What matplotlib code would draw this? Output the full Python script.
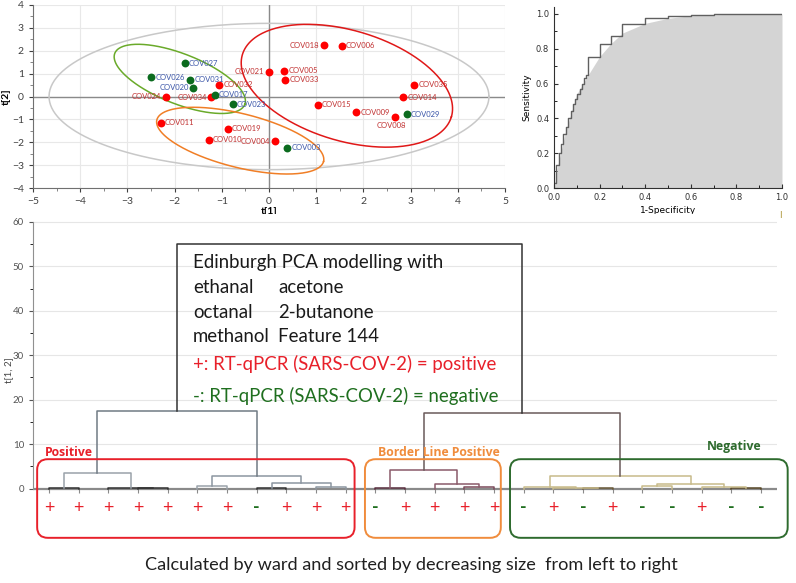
import numpy as np
import matplotlib.pyplot as plt
from matplotlib.patches import FancyBboxPatch

plt.rcParams['font.family'] = ['Lato', 'DejaVu Sans']

# PCA score plot
sample_ids = ['COV027', 'COV026', 'COV031', 'COV020', 'COV032', 'COV024', 'COV034', 'COV017', 'COV023',
              'COV011', 'COV019', 'COV010', 'COV018', 'COV006', 'COV021', 'COV005', 'COV033', 'COV035',
              'COV014', 'COV015', 'COV009', 'COV029', 'COV008', 'COV004', 'COV003']
t1 = [-1.79, -2.49, -1.67, -1.60, -1.05, -2.19, -1.22, -1.15, -0.77,
      -2.29, -0.87, -1.28, 1.16, 1.54, -0.01, 0.32, 0.34, 3.08,
      2.84, 1.03, 1.85, 2.92, 2.67, 0.12, 0.39]
t2 = [1.45, 0.84, 0.74, 0.38, 0.51, -0.01, -0.03, 0.07, -0.33,
      -1.15, -1.41, -1.88, 2.23, 2.21, 1.08, 1.12, 0.73, 0.51,
      -0.04, -0.36, -0.68, -0.77, -0.89, -1.95, -2.25]
pcr = ['neg', 'neg', 'neg', 'neg', 'pos', 'pos', 'pos', 'neg', 'neg',
       'pos', 'pos', 'pos', 'pos', 'pos', 'pos', 'pos', 'pos', 'pos',
       'pos', 'pos', 'pos', 'neg', 'pos', 'pos', 'neg']
label_side = ['r', 'r', 'r', 'l', 'r', 'l', 'l', 'r', 'r',
              'r', 'r', 'r', 'l', 'r', 'l', 'r', 'r', 'r',
              'r', 'r', 'r', 'r', 'b', 'l', 'r']
# ellipses: centre x, centre y, semi major, semi minor (t[1] units), tilt deg, colour
ellipses = [(0.0, 0.0, 4.66, 1.55, 0, '#c8c8c8'),
            (-1.89, 0.77, 1.48, 0.53, -21.5, '#6aaa2a'),
            (1.65, 0.47, 2.31, 1.17, -16.6, '#e01818'),
            (-0.61, -1.93, 1.82, 0.57, -14, '#f07e26')]

# ROC
roc_fpr = [0, 0.01, 0.02, 0.03, 0.04, 0.054, 0.063, 0.073, 0.084, 0.092, 0.103, 0.113, 0.123,
           0.132, 0.142, 0.15, 0.2, 0.25, 0.3, 0.4, 0.5, 0.6, 0.7, 1.0]
roc_tpr = [0.03, 0.13, 0.2, 0.25, 0.31, 0.35, 0.4, 0.44, 0.48, 0.51, 0.54, 0.57, 0.6,
           0.63, 0.65, 0.75, 0.83, 0.875, 0.94, 0.975, 0.99, 0.996, 1.0, 1.0]
fit_fpr = [0, 0.005, 0.01, 0.02, 0.05, 0.1, 0.15, 0.2, 0.25, 0.3, 0.4, 0.5, 0.6, 0.8, 1.0]
fit_tpr = [0, 0.03, 0.08, 0.15, 0.32, 0.54, 0.65, 0.755, 0.83, 0.89, 0.946, 0.975, 0.99, 1.0, 1.0]

# dendrogram (leaves numbered 0..24 left to right, merges numbered from 25)
leaf_signs = ['+', '+', '+', '+', '+', '+', '+', '-', '+', '+', '+',
              '-', '+', '+', '+', '+',
              '-', '+', '-', '+', '-', '-', '+', '-', '-']
merges = [(3, 4, 0.1), (2, 25, 0.2), (0, 1, 0.15), (27, 26, 3.6),
          (5, 6, 0.5), (7, 8, 0.1), (9, 10, 0.3), (30, 31, 1.3), (29, 32, 2.9), (28, 33, 17.5),
          (11, 12, 0.2), (14, 15, 0.3), (13, 36, 0.95), (35, 37, 4.1),
          (18, 19, 0.05), (17, 39, 0.15), (16, 40, 0.4), (23, 24, 0.1), (22, 42, 0.4),
          (20, 21, 0.5), (44, 43, 1.05), (41, 45, 2.8),
          (38, 46, 16.9), (34, 47, 55)]
link_colors = ['#333333', '#333333', '#333333', '#9aa2aa',
               '#9aa2aa', '#333333', '#8c96a0', '#8c96a0', '#8c96a0', '#707a84',
               '#5a3040', '#7a4a5a', '#8a5a6a', '#8a5a6a',
               '#6a5a3a', '#c8bb8a', '#c8bb8a', '#5a4a2a', '#c8bb8a',
               '#c8bb8a', '#c8bb8a', '#c8bb8a',
               '#6a5a5a', '#333333']
groups = ['Positive', 'Border Line Positive', 'Negative']
group_colors = ['#e8202a', '#f08c3c', '#2e6b2e']

fig = plt.figure(figsize=(7.96, 5.83), dpi=100)

# ---- score plot
ax1 = fig.add_axes([33 / 796, 1 - 188 / 583, 472 / 796, 183 / 583])
ax1.set_xlim(-5, 5)
ax1.set_ylim(-4, 4)
ax1.set_xticks(range(-5, 6))
ax1.set_yticks(range(-4, 5))
ax1.set_xticks(np.arange(-5, 5.01, 0.5), minor=True)
ax1.set_yticks(np.arange(-4, 4.01, 0.5), minor=True)
ax1.grid(color='#e8e8e8', lw=0.8)
ax1.set_axisbelow(True)
ax1.axhline(0, color='#8a8a8a', lw=1)
ax1.axvline(0, color='#8a8a8a', lw=1)
for s in ['top', 'right']:
    ax1.spines[s].set_visible(False)
for s in ['left', 'bottom']:
    ax1.spines[s].set_color('#707070')
ax1.tick_params(labelsize=7.5, colors='#404040', length=3)
ax1.tick_params(which='minor', length=2, colors='#707070')
ax1.set_xlabel('t[1]', fontsize=7.5, fontweight='bold', labelpad=1)
ax1.set_ylabel('t[2]', fontsize=7.5, fontweight='bold', labelpad=1)

fig.canvas.draw()
bb = ax1.get_window_extent()
k = (bb.width / 10) / (bb.height / 8)
t = np.linspace(0, 2 * np.pi, 300)
for cx, cy, a, b, ang, col in ellipses:
    th = np.radians(ang)
    ex = cx + a * np.cos(t) * np.cos(th) - b * np.sin(t) * np.sin(th)
    ey = cy + k * (a * np.cos(t) * np.sin(th) + b * np.sin(t) * np.cos(th))
    ax1.plot(ex, ey, color=col, lw=1.1)

for name, x, y, g, side in zip(sample_ids, t1, t2, pcr, label_side):
    pc = '#ff0000' if g == 'pos' else '#0b6b1e'
    tc = '#c03030' if g == 'pos' else '#3a55a8'
    ax1.scatter(x, y, s=32, color=pc, zorder=3, linewidths=0)
    if side == 'r':
        ax1.annotate(name, (x, y), xytext=(3, 0), textcoords='offset points', ha='left', va='center', fontsize=5.5, color=tc)
    elif side == 'l':
        ax1.annotate(name, (x, y), xytext=(-3, 0), textcoords='offset points', ha='right', va='center', fontsize=5.5, color=tc)
    else:
        ax1.annotate(name, (x, y), xytext=(-3, -4), textcoords='offset points', ha='center', va='top', fontsize=5.5, color=tc)

# ---- ROC
ax2 = fig.add_axes([554 / 796, 1 - 188 / 583, 228 / 796, 181 / 583])
ax2.fill_between(fit_fpr, 0, fit_tpr, color='#d4d4d4', lw=0)
ax2.step(roc_fpr, roc_tpr, where='post', color='#606060', lw=1)
ax2.set_xlim(0, 1)
ax2.set_ylim(0, 1.04)
ax2.set_xticks(np.arange(0, 1.01, 0.2))
ax2.set_yticks(np.arange(0, 1.01, 0.2))
ax2.set_xticks(np.arange(0, 1.01, 0.1), minor=True)
ax2.set_yticks(np.arange(0, 1.01, 0.1), minor=True)
ax2.set_xticklabels(['%.1f' % v for v in np.arange(0, 1.01, 0.2)], family='DejaVu Sans')
ax2.set_yticklabels(['%.1f' % v for v in np.arange(0, 1.01, 0.2)], family='DejaVu Sans')
for s in ['top', 'right']:
    ax2.spines[s].set_visible(False)
for s in ['left', 'bottom']:
    ax2.spines[s].set_color('#303030')
ax2.tick_params(labelsize=6, direction='in', length=3, colors='#303030')
ax2.tick_params(which='minor', direction='in', length=2)
ax2.set_xlabel('1-Specificity', fontsize=6.5, family='DejaVu Sans', labelpad=3)
ax2.set_ylabel('Sensitivity', fontsize=6.5, family='DejaVu Sans', labelpad=3)
fig.text(780 / 796, 1 - 215 / 583, 'I', fontsize=7, color='#b09a40', ha='center', va='center')

# ---- dendrogram
ax3 = fig.add_axes([33 / 796, 1 - 539.6 / 583, 744 / 796, 326.1 / 583])
ax3.set_xlim(-0.54, 24.54)
ax3.set_ylim(-11.5, 61.9)
ax3.set_xticks([])
ax3.set_yticks(range(0, 61, 10))
ax3.set_yticks(range(0, 61, 5), minor=True)
ax3.grid(axis='y', color='#e6e6e6', lw=0.8)
ax3.set_axisbelow(True)
for s in ['top', 'right', 'bottom']:
    ax3.spines[s].set_visible(False)
ax3.spines['left'].set_bounds(0, 60)
ax3.spines['left'].set_color('#909090')
ax3.tick_params(labelsize=7, colors='#555555', length=3)
ax3.tick_params(which='minor', length=2)
ax3.set_ylabel('t[1, 2]', fontsize=7, color='#444444', labelpad=4)
ax3.yaxis.set_label_coords(-0.027, 0.52)

n_leaves = len(leaf_signs)
pos = {i: (float(i), 0.0) for i in range(n_leaves)}
for j, (a, b, h) in enumerate(merges):
    xa, ha = pos[a]
    xb, hb = pos[b]
    ax3.plot([xa, xa, xb, xb], [ha, h, h, hb], color=link_colors[j], lw=1.1, zorder=3)
    pos[n_leaves + j] = ((xa + xb) / 2, h)

ax3.axhline(0, color='#8a8a8a', lw=1.6, zorder=2)
ax3.vlines(range(n_leaves), -1.1, 0, color='#8a8a8a', lw=0.8)
for i, sgn in enumerate(leaf_signs):
    if sgn == '+':
        ax3.text(i, -4.3, sgn, ha='center', va='center', fontsize=13, color='#e8202a')
    else:
        ax3.text(i, -4.3, sgn, ha='center', va='center', fontsize=13, color='#1f6f1f', fontweight='bold')

box_pad = [(-0.4, 10.3), (10.65, 15.23), (15.54, 24.9)]
label_x = [0.67, 13.15, 23.1]
label_y = [8.2, 8.2, 9.4]
for (x0, x1), name, col, lx, ly in zip(box_pad, groups, group_colors, label_x, label_y):
    ax3.add_patch(FancyBboxPatch((x0, -11.1), x1 - x0, 17.7,
                                 boxstyle='round,pad=0,rounding_size=0.36', mutation_aspect=6.6,
                                 fc='none', ec=col, lw=1.4, clip_on=False, zorder=4))
    ax3.text(lx, ly, name, ha='center', va='center', fontsize=8.8, fontweight='bold',
             color=col, family=['Open Sans', 'DejaVu Sans'], clip_on=False)

# legend text inside the root link
txt_x = 4.85
fs = 13.4
ax3.text(txt_x, 50.8, 'Edinburgh PCA modelling with', fontsize=fs, color='#1a1a1a', va='center')
col1 = ['ethanal', 'octanal', 'methanol']
col2 = ['acetone', '2-butanone', 'Feature 144']
for r, (c1, c2) in enumerate(zip(col1, col2)):
    yy = 45.2 - r * 5.5
    ax3.text(txt_x, yy, c1, fontsize=fs, color='#1a1a1a', va='center')
    ax3.text(7.72, yy, c2, fontsize=fs, color='#1a1a1a', va='center')
ax3.text(txt_x, 28.0, '+: RT-qPCR (SARS-COV-2) = positive', fontsize=fs, color='#e8202a', va='center')
ax3.text(txt_x, 20.8, '-: RT-qPCR (SARS-COV-2) = negative', fontsize=fs, color='#1f6f1f', va='center')

fig.text(411 / 796, 1 - 565 / 583, 'Calculated by ward and sorted by decreasing size  from left to right',
         ha='center', va='center', fontsize=13.1, color='#202020')

fig.savefig('out.png', dpi=100)
